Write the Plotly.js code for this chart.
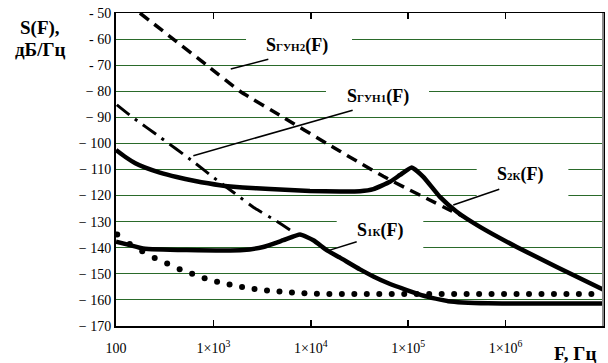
<!DOCTYPE html>
<html>
<head>
<meta charset="utf-8">
<script src="https://cdn.plot.ly/plotly-3.0.1.min.js"></script>
<style>html,body{margin:0;padding:0;background:#fff;}#chart{width:608px;height:363px;}</style>
</head>
<body>
<div id="chart"></div>
<script>
// S_ГУН2(F) — dashed
const F_gun2 = [176, 387, 853, 1875, 5224, 14550, 19950, 32000, 55500, 96600, 155000, 268500, 368000];
const S_gun2 = [-50, -60, -70, -80, -90, -100, -103.0, -107.5, -112.6, -117.3, -121.1, -125.6, -128.0];
// S_ГУН1(F) — dash-dot
const F_gun1 = [102, 148, 283, 622, 998, 1667, 2673, 4467, 6607];
const S_gun1 = [-85.2, -90, -97.6, -107.0, -113.0, -119.2, -124.9, -129.8, -134.0];
// S_2К(F) — solid
const F_2k = [100, 126, 158, 200, 282, 420, 631, 1170, 2000, 3810, 9817, 20000, 32000, 43850, 65000, 82400, 108600, 142900, 211800, 314800, 545800, 1300000, 3350000, 10000000];
const S_2k = [-102.5, -105.3, -107.6, -109.3, -111.2, -112.9, -114.3, -116.0, -116.9, -117.5, -118.2, -118.4, -118.3, -117.5, -114.7, -112.1, -109.2, -112.8, -120.5, -126.2, -132.0, -139.7, -147.4, -156.0];
// S_1К(F) — solid
const F_1k = [100, 139, 190, 532, 2028, 3251, 5224, 7745, 10620, 14550, 19950, 32000, 43850, 62500, 96600, 144500, 258000, 663700, 10000000];
const S_1k = [-137.7, -139, -140.3, -140.9, -140.9, -139.7, -137.1, -134.9, -137.1, -140.9, -143.8, -148.3, -151.0, -153.6, -156.2, -158.4, -160.5, -161.3, -161.4];
// dotted curve
const F_dot = [103, 138.4, 185.9, 249.6, 335.2, 450.3, 604.7, 812.2, 1091, 1465, 1968, 2643, 3550, 4768, 6404, 8601, 11550, 15510, 20840, 27990, 37580, 50480, 67780, 91060, 122300, 164300, 220600, 296300, 398000, 534500, 717800, 964000, 1295000, 1739000, 2336000, 3137000, 4213000, 5657000, 7599000];
const S_dot = [-134.9, -138.6, -141.3, -143.9, -146.0, -148.2, -150.0, -151.7, -153.0, -154.1, -155.0, -155.8, -156.4, -156.8, -157.2, -157.4, -157.6, -157.7, -157.7, -157.7, -157.7, -157.7, -157.7, -157.7, -157.7, -157.7, -157.7, -157.7, -157.7, -157.7, -157.7, -157.7, -157.7, -157.7, -157.7, -157.7, -157.7, -157.7, -157.7];

const xTickVals = [100, 1e3, 1e4, 1e5, 1e6];
const xTickText = ['100', '1×10<sup>3</sup>', '1×10<sup>4</sup>', '1×10<sup>5</sup>', '1×10<sup>6</sup>'];
const yTickVals = [-170, -160, -150, -140, -130, -120, -110, -100, -90, -80, -70, -60, -50];
const yTickText = ['− 170', '− 160', '− 150', '− 140', '− 130', '− 120', '− 110', '− 100', '− 90', '− 80', '- 70', '- 60', '- 50'];

const serif = "'Liberation Serif', 'Times New Roman', serif";

const traces = [
  {x: F_dot, y: S_dot, mode: 'markers', marker: {color: '#000', size: 6}},
  {x: F_gun1, y: S_gun1, mode: 'lines', line: {color: '#000', width: 3, dash: '16px,7px,3px,7px', shape: 'spline', smoothing: 0.5}},
  {x: F_gun2, y: S_gun2, mode: 'lines', line: {color: '#000', width: 3.5, dash: '11px,7px', shape: 'spline', smoothing: 0.5}},
  {x: F_1k, y: S_1k, mode: 'lines', line: {color: '#000', width: 4.5, shape: 'spline', smoothing: 0.4}},
  {x: F_2k, y: S_2k, mode: 'lines', line: {color: '#000', width: 4.5, shape: 'spline', smoothing: 0.4}}
];

function lbl(main, sub, x, y) {
  return {
    xref: 'x', yref: 'y', x: x, y: y, showarrow: false,
    text: main + '<span style="font-size:11px">' + sub + '</span>(F)',
    font: {family: serif, size: 18, color: '#000', weight: 'bold'},
    xanchor: 'center', yanchor: 'middle'
  };
}
function gap(x0, x1, y0, y1) {
  return {type: 'rect', xref: 'x', yref: 'y', x0: x0, x1: x1, y0: y0, y1: y1,
    fillcolor: '#fff', line: {width: 0}, layer: 'between'};
}
function leader(x0, y0, x1, y1) {
  return {type: 'line', xref: 'x', yref: 'y', x0: x0, y0: y0, x1: x1, y1: y1,
    line: {color: '#000', width: 1.5}, layer: 'above'};
}

const layout = {
  width: 608, height: 363, autosize: false,
  margin: {l: 116, r: 5, t: 13, b: 37},
  paper_bgcolor: '#fff', plot_bgcolor: '#fff',
  showlegend: false, hovermode: false,
  xaxis: {
    type: 'log', range: [2, 7],
    tickvals: xTickVals, ticktext: xTickText,
    ticks: 'inside', ticklen: 6, tickwidth: 1.5, tickcolor: '#000',
    showgrid: false, zeroline: false,
    showline: true, linecolor: '#000', linewidth: 1.5, mirror: 'ticks',
    tickfont: {family: serif, size: 14, color: '#000'},
    ticklabelstandoff: 9
  },
  yaxis: {
    range: [-170, -50],
    tickvals: yTickVals, ticktext: yTickText,
    ticks: '', showgrid: true, gridcolor: '#2a6a2a', gridwidth: 1,
    zeroline: false,
    showline: true, linecolor: '#000', linewidth: 2, mirror: true,
    tickfont: {family: serif, size: 14, color: '#000'}
  },
  shapes: [
    gap(2163, 26500, -56.4, -66.0),
    gap(14320, 163600, -75.6, -85.2),
    gap(505000, 4410000, -106.4, -121.8),
    gap(18450, 142900, -127.5, -141.7),
    leader(1507, -71.5, 3664, -67.7),
    leader(622, -104.7, 26900, -87.3),
    leader(290000, -123.6, 861000, -117.6),
    leader(14550, -141.3, 29600, -137.7),
    {type: 'line', xref: 'paper', yref: 'paper', x0: 1, x1: 1, y0: 0, y1: 1,
      line: {color: '#8a8a8a', width: 2}, layer: 'above'}
  ],
  annotations: [
    lbl('S', 'ГУН2', 3.863, -62.6),
    lbl('S', 'ГУН1', 4.693, -82.0),
    lbl('S', '2К', 6.148, -111.9),
    lbl('S', '1К', 4.711, -133.2),
    {xref: 'paper', yref: 'paper', x: -0.156, y: 0.952, showarrow: false, text: 'S(F),',
      font: {family: serif, size: 19, color: '#000', weight: 'bold'}, xanchor: 'center', yanchor: 'middle'},
    {xref: 'paper', yref: 'paper', x: -0.156, y: 0.883, showarrow: false, text: 'дБ/Гц',
      font: {family: serif, size: 19, color: '#000', weight: 'bold'}, xanchor: 'center', yanchor: 'middle'},
    {xref: 'paper', yref: 'paper', x: 0.9425, y: -0.089, showarrow: false, text: 'F, Гц',
      font: {family: serif, size: 19, color: '#000', weight: 'bold'}, xanchor: 'center', yanchor: 'middle'}
  ]
};

Plotly.newPlot('chart', traces, layout, {staticPlot: true, displayModeBar: false});
</script>
</body>
</html>
